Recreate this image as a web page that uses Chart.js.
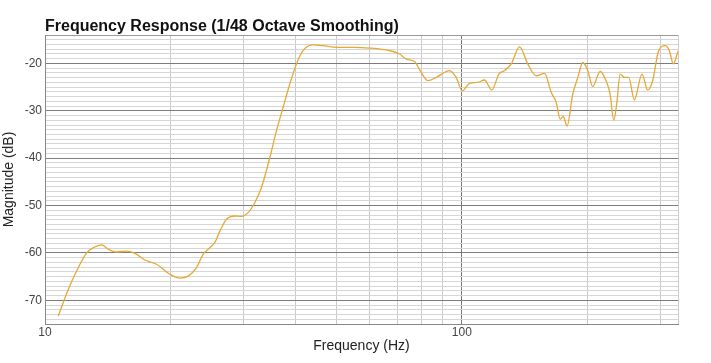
<!DOCTYPE html>
<html>
<head>
<meta charset="utf-8">
<script src="https://cdn.jsdelivr.net/npm/chart.js@4.4.1/dist/chart.umd.min.js"></script>
<style>
  html, body { margin: 0; padding: 0; background: #fff; }
</style>
</head>
<body>
<canvas id="freqChart" width="711" height="363"></canvas>
<script>
const freqs = [10.76, 11.37, 11.91, 12.59, 13.05, 13.68, 14.18, 14.85, 15.70, 16.44,
  17.36, 18.52, 19.93, 21.06, 22.05, 23.09, 23.95, 24.85, 25.55, 26.27,
  27.25, 28.53, 29.6, 30.7, 31.86, 33.06, 34.61, 35.92, 37.25, 38.64,
  40.1, 41.6, 43.95, 46.45, 50.0, 54.8, 60.08, 67.1, 70.9, 73.6,
  77.0, 79.9, 82.9, 86.85, 93.4, 96.9, 100.2, 104.3, 109.2, 113.3,
  118.0, 122.7, 126.6, 131.4, 137.5, 143.9, 150.8, 157.9, 163.8, 168.4,
  172.2, 175.0, 178.8, 184.5, 189.7, 195, 200.5, 206, 214.7, 221.8,
  226.8, 231.4, 235.2, 239.7, 245.5, 251.3, 259.3, 270.5, 279.1, 286.9,
  296.6, 307.7, 314.6, 321.6, 330];
const mags = [-73.3, -67.7, -63.8, -60.0, -58.9, -58.3, -59.2, -59.8, -59.6, -60.1,
  -61.5, -62.4, -64.5, -65.3, -64.9, -63.1, -60.3, -58.9, -57.8, -55.4,
  -52.9, -52.2, -52.3, -51.5, -49.4, -46.2, -39.9, -34.2, -29.3, -24.4,
  -20.1, -17.3, -16.1, -16.25, -16.6, -16.6, -16.75, -17.3, -18.0, -19.1,
  -19.6, -21.9, -23.65, -22.95, -21.5, -22.95, -25.8, -24.2, -24.0, -23.5,
  -25.6, -22.25, -21.5, -20.1, -16.5, -20.1, -22.6, -22.1, -26.1, -28.2,
  -31.75, -31.2, -33.2, -26.5, -23.0, -19.8, -21.5, -24.9, -21.7, -23.65,
  -26.5, -31.95, -28.6, -22.25, -22.95, -22.95, -27.7, -22.25, -25.6, -23.65,
  -17.3, -16.25, -17.3, -20.1, -17.45];

const xTicks = [10, 20, 30, 40, 50, 60, 70, 80, 90, 100, 200, 300, 330];
const xLabels = [10, 100];
const yMin = -75;
const yMax = -14;
const titleText = 'Frequency Response (1/48 Octave Smoothing)';

const fontFam = '"Liberation Sans", Arial, Helvetica, sans-serif';
Chart.defaults.font.family = fontFam;

const points = freqs.map((f, i) => ({ x: f, y: mags[i] }));

// title sits flush with the plot's left edge
const titlePlugin = {
  id: 'leftTitle',
  afterDraw(chart) {
    const c = chart.ctx;
    c.save();
    c.font = 'bold 16px ' + fontFam;
    c.fillStyle = '#111';
    c.textBaseline = 'alphabetic';
    c.fillText(titleText, chart.chartArea.left, 31);
    c.restore();
  }
};

new Chart(document.getElementById('freqChart'), {
  type: 'line',
  data: {
    datasets: [{
      data: points,
      borderColor: '#e6a934',
      borderWidth: 1.3,
      pointRadius: 0,
      cubicInterpolationMode: 'monotone',
      fill: false
    }]
  },
  options: {
    responsive: false,
    animation: false,
    layout: { padding: { top: 35, right: 33, left: 0, bottom: 0 } },
    plugins: { legend: { display: false }, tooltip: { enabled: false } },
    scales: {
      x: {
        type: 'logarithmic',
        min: 10,
        max: 330,
        afterBuildTicks: axis => { axis.ticks = xTicks.map(v => ({ value: v })); },
        afterFit: axis => { axis.height = 39; },
        ticks: {
          autoSkip: false,
          maxRotation: 0,
          padding: 1,
          color: '#444',
          font: { size: 12 },
          callback: v => xLabels.includes(v) ? String(v) : ''
        },
        grid: {
          drawTicks: false,
          color: c => (c.tick && c.tick.value === 100) ? '#777' : '#c9c9cf'
        },
        border: { color: '#888' },
        title: {
          display: true,
          text: 'Frequency (Hz)',
          color: '#222',
          font: { size: 14, lineHeight: 1.2 },
          padding: { top: 0, bottom: 8 }
        }
      },
      y: {
        min: yMin,
        max: yMax,
        afterFit: axis => { axis.width = 45; },
        ticks: {
          stepSize: 1,
          autoSkip: false,
          padding: 3,
          color: '#444',
          font: { size: 12 },
          callback: v => v % 10 === 0 ? String(v) : ''
        },
        grid: {
          drawTicks: false,
          color: c => {
            const v = c.tick ? c.tick.value : 0;
            if (v % 10 === 0) return '#7d7d7d';
            if (v === yMax) return '#999';
            return '#d6d6d6';
          }
        },
        border: { color: '#888' },
        title: {
          display: true,
          text: 'Magnitude (dB)',
          color: '#222',
          font: { size: 14, lineHeight: 1 },
          padding: { top: 2, bottom: 0 }
        }
      }
    }
  },
  plugins: [titlePlugin]
});
</script>
</body>
</html>
